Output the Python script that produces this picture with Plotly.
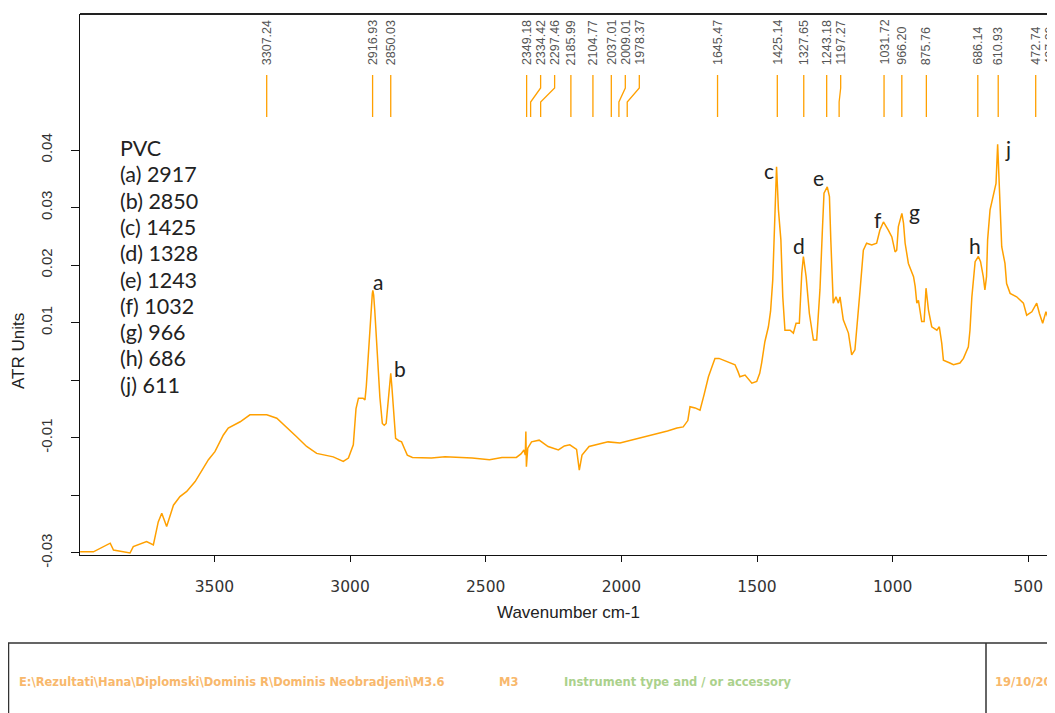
import plotly.graph_objects as go

# ---------------- data ----------------
wavenumber = [
    3995, 3946, 3884, 3872, 3811, 3799, 3750, 3725, 3707, 3694, 3676, 3651, 3627, 3602, 3571,
    3541, 3522, 3498, 3467, 3449, 3405, 3369, 3307, 3270, 3234, 3197, 3160, 3123, 3062, 3025,
    3006, 2988, 2978, 2969, 2952, 2945,
    2940, 2934, 2928, 2923, 2918, 2916, 2913, 2909, 2903, 2898, 2890, 2881, 2874, 2867, 2862,
    2858, 2853, 2850, 2846, 2842, 2837, 2832, 2820, 2810, 2800, 2789, 2770, 2754, 2700, 2650,
    2600, 2550, 2486, 2440, 2387, 2370, 2359, 2354, 2352, 2350, 2345, 2331, 2303, 2270, 2232,
    2210, 2190, 2165, 2155, 2145, 2119, 2080, 2049, 2005, 1936, 1882, 1830, 1795, 1772, 1755,
    1747, 1728, 1710, 1695, 1679, 1665, 1655, 1640, 1624, 1600, 1581, 1570, 1563, 1544, 1530,
    1519, 1501, 1490, 1483, 1471, 1458, 1450, 1442, 1434, 1428, 1425, 1421, 1412, 1405, 1397,
    1378, 1366, 1356, 1344, 1335, 1329, 1319, 1307, 1292, 1280, 1268, 1259, 1253, 1241, 1233,
    1228, 1219, 1209, 1200, 1194, 1182, 1163, 1151, 1139, 1130, 1120, 1108, 1096, 1077, 1059,
    1047, 1034, 1016, 1003, 991, 985, 979, 966, 960, 954, 942, 923, 917, 911, 905,
    893, 884, 877, 868, 856, 837, 828, 819, 813, 789, 776, 752, 739, 721, 715,
    708, 703, 696, 684, 676, 666, 660, 654, 650, 641, 629, 619, 613, 608, 604,
    598, 586, 580, 567, 543, 518, 506, 487, 469, 459, 447, 435, 420, 402,
]
absorbance = [
    -0.0298, -0.0298, -0.0283, -0.0295, -0.0300, -0.0289, -0.0280, -0.0286, -0.0246, -0.0231,
    -0.0254, -0.0217, -0.0202, -0.0193, -0.0176, -0.0153, -0.0138, -0.0124, -0.0095, -0.0083,
    -0.0072, -0.0060, -0.0060, -0.0066, -0.0081, -0.0098, -0.0115, -0.0127, -0.0133, -0.0141,
    -0.0135, -0.0112, -0.0049, -0.0031, -0.0031, -0.0034,
    -0.0010, 0.0035, 0.0090, 0.0128, 0.0150,
    0.0156, 0.0148, 0.0122, 0.0070, 0.0018, -0.0030, -0.0075, -0.0078, -0.0075, -0.0050,
    -0.0023, 0.0000, 0.0012, -0.0010, -0.0040, -0.0075, -0.0101, -0.0105, -0.0107, -0.0118,
    -0.0130, -0.0134, -0.0134, -0.0135, -0.0133, -0.0134, -0.0135, -0.0138, -0.0134, -0.0134,
    -0.0128, -0.0121, -0.0130, -0.0089, -0.0150, -0.0118, -0.0107, -0.0104, -0.0115, -0.0121,
    -0.0114, -0.0112, -0.0120, -0.0156, -0.0130, -0.0115, -0.0110, -0.0107, -0.0109, -0.0101,
    -0.0094, -0.0088, -0.0083, -0.0081, -0.0070, -0.0046, -0.0048, -0.0052, -0.0025, 0.0006,
    0.0025, 0.0038, 0.0038, 0.0035, 0.0031, 0.0027, 0.0015, 0.0006, 0.0009, 0.0000,
    -0.0005, -0.0002, 0.0012, 0.0030, 0.0067, 0.0093, 0.0120, 0.0174, 0.0290, 0.0371,
    0.0340, 0.0296, 0.0244, 0.0145, 0.0087, 0.0087, 0.0082, 0.0099, 0.0099, 0.0186,
    0.0215, 0.0180, 0.0116, 0.0070, 0.0070, 0.0157, 0.0261, 0.0325, 0.0336, 0.0319,
    0.0244, 0.0134, 0.0145, 0.0134, 0.0145, 0.0105, 0.0082, 0.0044, 0.0053, 0.0110,
    0.0157, 0.0226, 0.0238, 0.0235, 0.0238, 0.0261, 0.0275, 0.0261, 0.0249, 0.0223,
    0.0226, 0.0267, 0.0290, 0.0273, 0.0238, 0.0203, 0.0180, 0.0163, 0.0134, 0.0139,
    0.0102, 0.0102, 0.0160, 0.0122, 0.0093, 0.0087, 0.0093, 0.0064, 0.0035, 0.0030,
    0.0027, 0.0030, 0.0038, 0.0058, 0.0087, 0.0145, 0.0174, 0.0206, 0.0215, 0.0206,
    0.0180, 0.0157, 0.0180, 0.0244, 0.0296, 0.0319, 0.0342, 0.0410, 0.0348, 0.0302,
    0.0232, 0.0203, 0.0168, 0.0151, 0.0145, 0.0134, 0.0113, 0.0119, 0.0134, 0.0116,
    0.0099, 0.0119, 0.0099, 0.0090,
]

# automatic peak picks shown at the top of the plot
picked_peaks = [3307.24, 2916.93, 2850.03, 2349.18, 2334.42, 2297.46, 2185.99, 2104.77,
                2037.01, 2009.01, 1978.37, 1645.47, 1425.14, 1327.65, 1243.18, 1197.27,
                1031.72, 966.20, 875.76, 686.14, 610.93, 472.74, 427.29]

# assigned PVC bands
band_letters = ["a", "b", "c", "d", "e", "f", "g", "h", "j"]
band_values = [2917, 2850, 1425, 1328, 1243, 1032, 966, 686, 611]
sample_name = "PVC"

x_tick_vals = [3500, 3000, 2500, 2000, 1500, 1000, 500]
x_tick_text = ["3500", "3000", "2500", "2000", "1500", "1000", "500"]
y_tick_vals = [0.04, 0.03, 0.02, 0.01, 0.0, -0.01, -0.02, -0.03]
y_tick_text = ["0.04", "0.03", "0.02", "0.01", "", "-0.01", "", "-0.03"]

footer_path = "E:\\Rezultati\\Hana\\Diplomski\\Dominis R\\Dominis Neobradjeni\\M3.6"
footer_name = "M3"
footer_instr = "Instrument type and / or accessory"
footer_date = "19/10/2016"

# ---------------- layout geometry (page pixels; page body has an 8px margin) ----------------
OFF = 8
W, H = 1055 - OFF, 713 - OFF
PL, PR, PT, PB = 80, 1055, 14, 555          # plot area in page pixels
L, R, T, B = PL - OFF, PR - OFF, PT - OFF, PB - OFF
X_RANGE = [3995.4, 401.6]
Y_RANGE = [-0.03035, 0.06363]

ORANGE = "#ffa000"
TXT_ORANGE = "#f8b86c"
TXT_GREEN = "#abd18c"


def px_x(p):          # page pixel -> paper x
    return (p - OFF - L) / (R - L)


def px_y(p):          # page pixel -> paper y
    return (B - (p - OFF)) / (B - T)


px_per_wn = (R - L) / (X_RANGE[0] - X_RANGE[1])

fig = go.Figure()
fig.add_trace(go.Scatter(x=wavenumber, y=absorbance, mode="lines",
                         line=dict(color=ORANGE, width=1.5), hoverinfo="skip",
                         showlegend=False))

shapes = []
annotations = []

# peak pick lines and labels (labels spread so they do not overlap)
min_gap = 14 / px_per_wn
prev = None
for pk in sorted(picked_peaks, reverse=True):
    lab = pk if prev is None else min(pk, prev - min_gap)
    prev = lab
    y1, y2, y3, y4 = px_y(75), px_y(88), px_y(102), px_y(117)
    if abs(lab - pk) < 1e-9:
        path = f"M {pk},{y1} L {pk},{y4}"
    else:
        path = f"M {lab},{y1} L {lab},{y2} L {pk},{y3} L {pk},{y4}"
    shapes.append(dict(type="path", xref="x", yref="paper", path=path,
                       line=dict(color=ORANGE, width=1.3)))
    annotations.append(dict(x=lab, xref="x", y=px_y(67), yref="paper",
                            text=f"{pk:.2f}", textangle=-90, showarrow=False,
                            xanchor="center", yanchor="bottom",
                            font=dict(family="Liberation Sans", size=12.5, color="#555555")))

# band letters placed beside their peaks (data coordinates)
letter_pos = [(2898, 0.0172), (2817, 0.0020), (1456, 0.0364), (1345, 0.0234), (1272, 0.0353),
              (1054, 0.0279), (918, 0.0293), (697, 0.0234), (575, 0.0402)]
for letter, (lx, ly) in zip(band_letters, letter_pos):
    annotations.append(dict(x=lx, xref="x", y=ly, yref="y", text=letter,
                            showarrow=False, xanchor="center", yanchor="middle",
                            font=dict(family="Lato", size=21, color="#222222")))

# legend-like list
lines = [sample_name] + [f"({l}) {v}" for l, v in zip(band_letters, band_values)]
for i, t in enumerate(lines):
    annotations.append(dict(x=px_x(118), xref="paper", y=px_y(148 + i * 26.3), yref="paper",
                            text=t, showarrow=False, xanchor="left", yanchor="middle",
                            font=dict(family="Lato", size=21.5, color="#222222")))

# axis titles
annotations.append(dict(x=px_x(18), xref="paper", y=px_y(351), yref="paper",
                        text="ATR Units", textangle=-90, showarrow=False,
                        xanchor="center", yanchor="middle",
                        font=dict(family="Liberation Sans", size=17, color="#222222")))
annotations.append(dict(x=px_x(568), xref="paper", y=px_y(612), yref="paper",
                        text="Wavenumber cm-1", showarrow=False,
                        xanchor="center", yanchor="middle",
                        font=dict(family="Liberation Sans", size=17, color="#222222")))

# top frame line
shapes.append(dict(type="line", xref="paper", yref="paper", x0=0, x1=1.02, y0=1, y1=1,
                   line=dict(color="#222222", width=2)))

# footer box
shapes.append(dict(type="rect", xref="paper", yref="paper", x0=px_x(8.5), x1=px_x(1075),
                   y0=px_y(643), y1=px_y(740), line=dict(color="#333333", width=1.5)))
shapes.append(dict(type="line", xref="paper", yref="paper", x0=px_x(986), x1=px_x(986),
                   y0=px_y(643), y1=px_y(740), line=dict(color="#333333", width=1.5)))

for txt, xpx, col in [(footer_path, 17, TXT_ORANGE), (footer_name, 497, TXT_ORANGE),
                      (footer_instr, 562, TXT_GREEN), (footer_date, 993, TXT_ORANGE)]:
    annotations.append(dict(x=px_x(xpx), xref="paper", y=px_y(682), yref="paper",
                            text=f"<b>{txt}</b>", showarrow=False, xanchor="left", yanchor="middle",
                            font=dict(family="DejaVu Sans", size=11.5, color=col)))

fig.update_layout(
    width=W, height=H,
    margin=dict(l=L, r=W - R, t=T, b=H - B, pad=0),
    paper_bgcolor="white", plot_bgcolor="white",
    showlegend=False,
    shapes=shapes, annotations=annotations,
    xaxis=dict(range=X_RANGE, showgrid=False, zeroline=False, showline=True,
               linecolor="#111111", linewidth=1, ticks="outside", ticklen=6,
               tickcolor="#111111", tickvals=x_tick_vals, ticktext=x_tick_text,
               ticklabelstandoff=11,
               tickfont=dict(family="DejaVu Sans", size=15.5, color="#333333")),
    yaxis=dict(range=Y_RANGE, showgrid=False, zeroline=False, showline=True,
               linecolor="#111111", linewidth=1, ticks="outside", ticklen=8,
               tickcolor="#111111", tickvals=y_tick_vals, ticktext=y_tick_text,
               tickangle=-90, ticklabelstandoff=13,
               tickfont=dict(family="Liberation Sans", size=15, color="#333333")),
)

fig.write_html("out.html")
